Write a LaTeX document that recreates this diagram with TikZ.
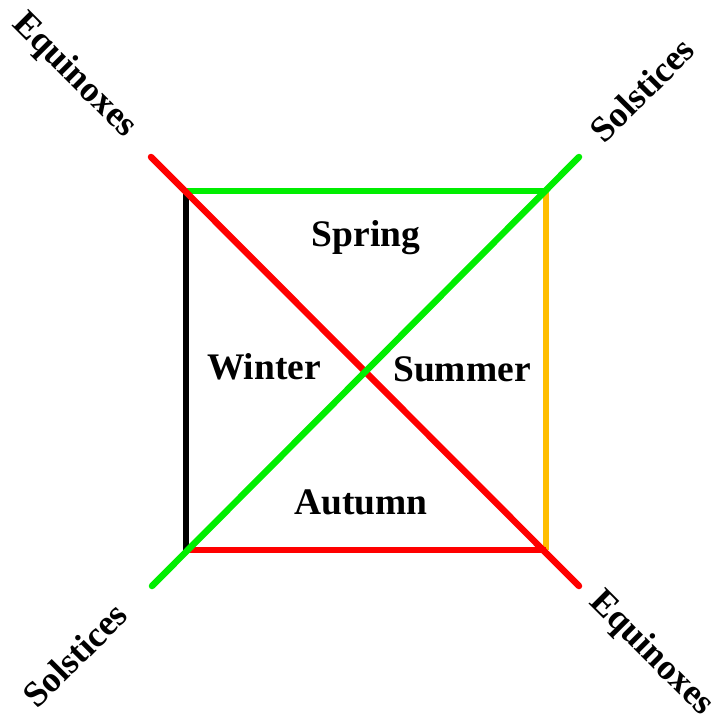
\documentclass[tikz,border=0pt]{standalone}
\usepackage{fontspec}
\setmainfont{Liberation Serif}
\definecolor{gr}{RGB}{0,238,0}
\definecolor{orng}{RGB}{255,190,0}
\definecolor{rd}{RGB}{255,0,0}
\begin{document}
\begin{tikzpicture}[x=1pt,y=-1pt,
  side/.style={line width=6.5pt},
  diag/.style={line width=6.5pt,line cap=round},
  lbl/.style={font=\fontsize{37.5}{42}\selectfont\bfseries, inner sep=0pt},
  corner/.style={font=\fontsize{36}{42}\selectfont\bfseries, inner sep=0pt}]
\useasboundingbox (0,0) rectangle (716,724);
\coordinate (tl) at (186,191);
\coordinate (tr) at (546,191);
\coordinate (br) at (546,550);
\coordinate (bl) at (186,550);
\coordinate (r1) at (151,157);
\coordinate (r2) at (579,586);
\coordinate (g1) at (152,586);
\coordinate (g2) at (579,157);
\draw[side,black] (tl) -- (bl);
\draw[side,gr] (tl) -- (tr);
\draw[side,orng] (tr) -- (br);
\draw[side,rd] (bl) -- (br);
\draw[diag,rd] (r1) -- (r2);
\draw[diag,gr] (g1) -- (g2);
\node[lbl] (spring) at (366,238) {Spring};
\node[lbl] (winter) at (264,367) {Winter};
\node[lbl] (summer) at (462,369) {Summer};
\node[lbl] (autumn) at (361,502) {Autumn};
\node[corner,rotate=-45] (eq1) at (74,76) {Equinoxes};
\node[corner,rotate=45] (so1) at (642,90) {Solstices};
\node[corner,rotate=45] (so2) at (75,655) {Solstices};
\node[corner,rotate=-45] (eq2) at (651,654) {Equinoxes};
\end{tikzpicture}
\end{document}
